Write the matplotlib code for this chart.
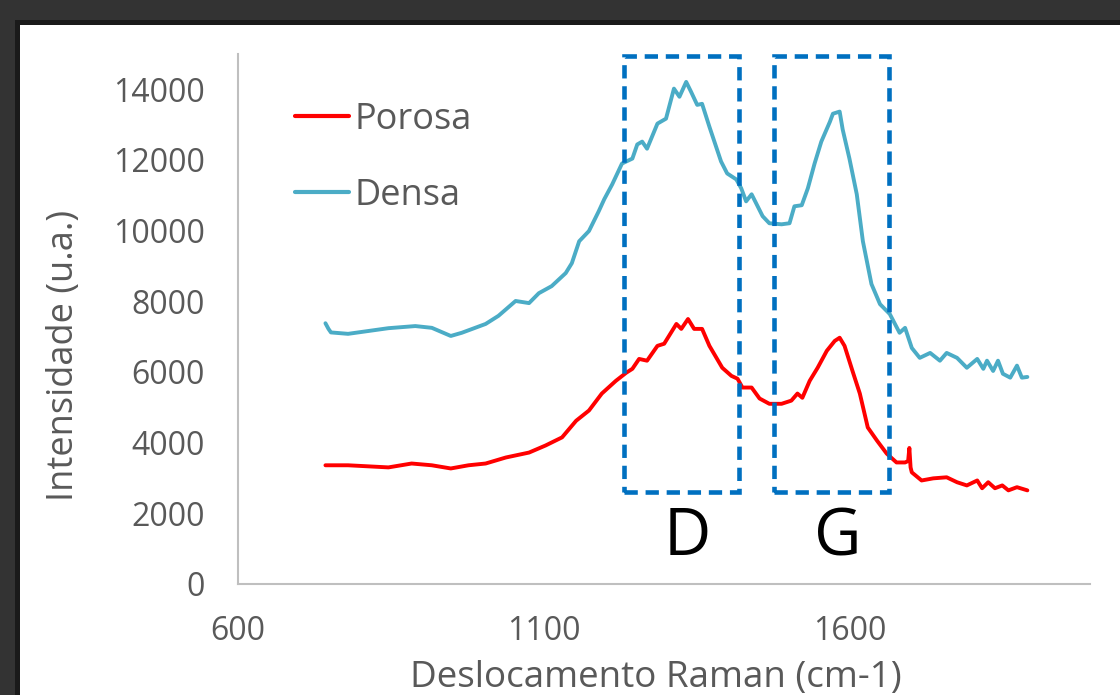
import matplotlib
matplotlib.use("Agg")
import matplotlib.pyplot as plt
from matplotlib.patches import Rectangle

# ---------------- data ----------------
densa_x = [743, 748, 752, 780, 813, 846, 890, 917, 948, 966, 1005, 1026, 1054, 1076, 1092,
           1113, 1136, 1146, 1158, 1174, 1190, 1199, 1212, 1228, 1245, 1253, 1261, 1269,
           1286, 1300, 1313, 1322, 1333, 1341, 1351, 1359, 1371, 1390, 1400, 1415, 1423,
           1431, 1440, 1458, 1469, 1489, 1502, 1510, 1522, 1532, 1543, 1554, 1568, 1573,
           1584, 1589, 1600, 1612, 1622, 1636, 1650, 1666, 1682, 1691, 1702, 1715, 1732,
           1748, 1759, 1776, 1792, 1809, 1819, 1825, 1835, 1843, 1851, 1863, 1874, 1882,
           1891]
densa_y = [7380, 7220, 7120, 7080, 7160, 7240, 7300, 7250, 7020, 7110, 7360, 7590, 8010,
           7950, 8230, 8430, 8800, 9080, 9700, 9990, 10550, 10890, 11310, 11900, 12040,
           12440, 12520, 12320, 13030, 13170, 14020, 13790, 14210, 13930, 13560, 13590,
           12940, 11960, 11620, 11450, 11200, 10830, 11030, 10410, 10210, 10180, 10210,
           10690, 10720, 11200, 11900, 12520, 13080, 13310, 13370, 12860, 12040, 11030,
           9700, 8490, 7920, 7640, 7110, 7250, 6680, 6400, 6540, 6320, 6540, 6400, 6120,
           6370, 6090, 6320, 6030, 6320, 5950, 5840, 6180, 5840, 5860]

porosa_x = [743, 780, 846, 884, 917, 948, 977, 1005, 1038, 1076, 1103, 1130, 1153, 1174,
            1195, 1218, 1235, 1245, 1256, 1269, 1286, 1297, 1317, 1325, 1336, 1346, 1359,
            1371, 1392, 1407, 1417, 1425, 1440, 1453, 1469, 1489, 1505, 1515, 1523, 1535,
            1548, 1563, 1576, 1584, 1592, 1605, 1617, 1630, 1645, 1661, 1677, 1691, 1696,
            1698, 1700, 1702, 1718, 1737, 1759, 1776, 1792, 1809, 1817, 1827, 1838, 1850,
            1860, 1874, 1891]
porosa_y = [3360, 3360, 3300, 3410, 3360, 3270, 3360, 3410, 3580, 3720, 3920, 4150, 4620,
            4910, 5390, 5750, 5980, 6090, 6370, 6320, 6740, 6800, 7360, 7220, 7500, 7220,
            7220, 6740, 6120, 5890, 5810, 5560, 5560, 5250, 5100, 5100, 5190, 5390, 5270,
            5750, 6120, 6600, 6880, 6970, 6740, 6030, 5390, 4430, 4060, 3690, 3440, 3440,
            3480, 3850, 3300, 3160, 2930, 2990, 3020, 2880, 2790, 2930, 2710, 2880, 2710,
            2790, 2650, 2740, 2650]

series_names = ["Porosa", "Densa"]
y_ticks = [0, 2000, 4000, 6000, 8000, 10000, 12000, 14000]
x_ticks = [600, 1100, 1600]
band_labels = ["D", "G"]
band_ranges = [(1231, 1420), (1477, 1665)]
band_y = (2600, 14930)

# ---------------- figure ----------------
W, H = 1120, 695
fig = plt.figure(figsize=(W / 100, H / 100), dpi=100)
fig.patch.set_facecolor("#333333")

def fx(px):
    return px / W

def fy(py):
    return 1 - py / H

# dark frame edge + white chart area
fig.add_artist(Rectangle((fx(15), 0), 1 - fx(15), fy(20), transform=fig.transFigure,
                         facecolor="#1a1a1a", edgecolor="none", zorder=0))
fig.add_artist(Rectangle((fx(20), 0), 1 - fx(20), fy(25), transform=fig.transFigure,
                         facecolor="white", edgecolor="none", zorder=0))

ax_l, ax_r, ax_t, ax_b = 238, 1090, 54, 584
ax = fig.add_axes([fx(ax_l), fy(ax_b), fx(ax_r - ax_l), (ax_b - ax_t) / H])
ax.set_facecolor("none")

font = "Open Sans"
gray = "#595959"

ax.plot(porosa_x, porosa_y, color="#ff0000", lw=2.8, label=series_names[0],
        solid_joinstyle="round", solid_capstyle="round")
ax.plot(densa_x, densa_y, color="#4bacc6", lw=2.8, label=series_names[1],
        solid_joinstyle="round", solid_capstyle="round")

ax.set_xlim(600, 600 + (ax_r - 240) * 500 / 305)
ax.set_ylim(0, 15000)
ax.set_xticks(x_ticks)
ax.set_yticks(y_ticks)
ax.set_xticklabels([str(v) for v in x_ticks], fontfamily=font, fontsize=23, color=gray)
ax.set_yticklabels([str(v) for v in y_ticks], fontfamily=font, fontsize=23, color=gray)
ax.tick_params(axis="both", length=0)
ax.tick_params(axis="x", pad=22)
ax.tick_params(axis="y", pad=24)
for s in ["top", "right"]:
    ax.spines[s].set_visible(False)
for s in ["left", "bottom"]:
    ax.spines[s].set_color("#bfbfbf")
    ax.spines[s].set_linewidth(1.5)

# band boxes
for (x0, x1), lab in zip(band_ranges, band_labels):
    ax.add_patch(Rectangle((x0, band_y[0]), x1 - x0, band_y[1] - band_y[0],
                           fill=False, edgecolor="#0070c0", lw=3.3,
                           linestyle=(0, (2.9, 1.7)), zorder=5, clip_on=False))
    ax.text((x0 + x1) / 2 + 10, 1300, lab, ha="center", va="center", fontsize=47,
            fontfamily=font, color="black")

# axis titles
fig.text(fx(64), fy(355), "Intensidade (u.a.)", rotation=90, ha="center", va="center",
         fontsize=26, fontfamily=font, color=gray)
fig.text(fx(656), fy(678), "Deslocamento Raman (cm-1)", ha="center", va="center",
         fontsize=26.5, fontfamily=font, color=gray)

leg = ax.legend(loc="upper left", bbox_to_anchor=(fx(295), fy(102)),
                bbox_transform=fig.transFigure, frameon=False,
                prop={"family": font, "size": 26}, handlelength=1.5,
                handletextpad=0.15, labelspacing=1.1, borderpad=0, borderaxespad=0)
for t in leg.get_texts():
    t.set_color(gray)
for l in leg.get_lines():
    l.set_linewidth(3)

fig.savefig("out.png", dpi=100, facecolor=fig.get_facecolor())
